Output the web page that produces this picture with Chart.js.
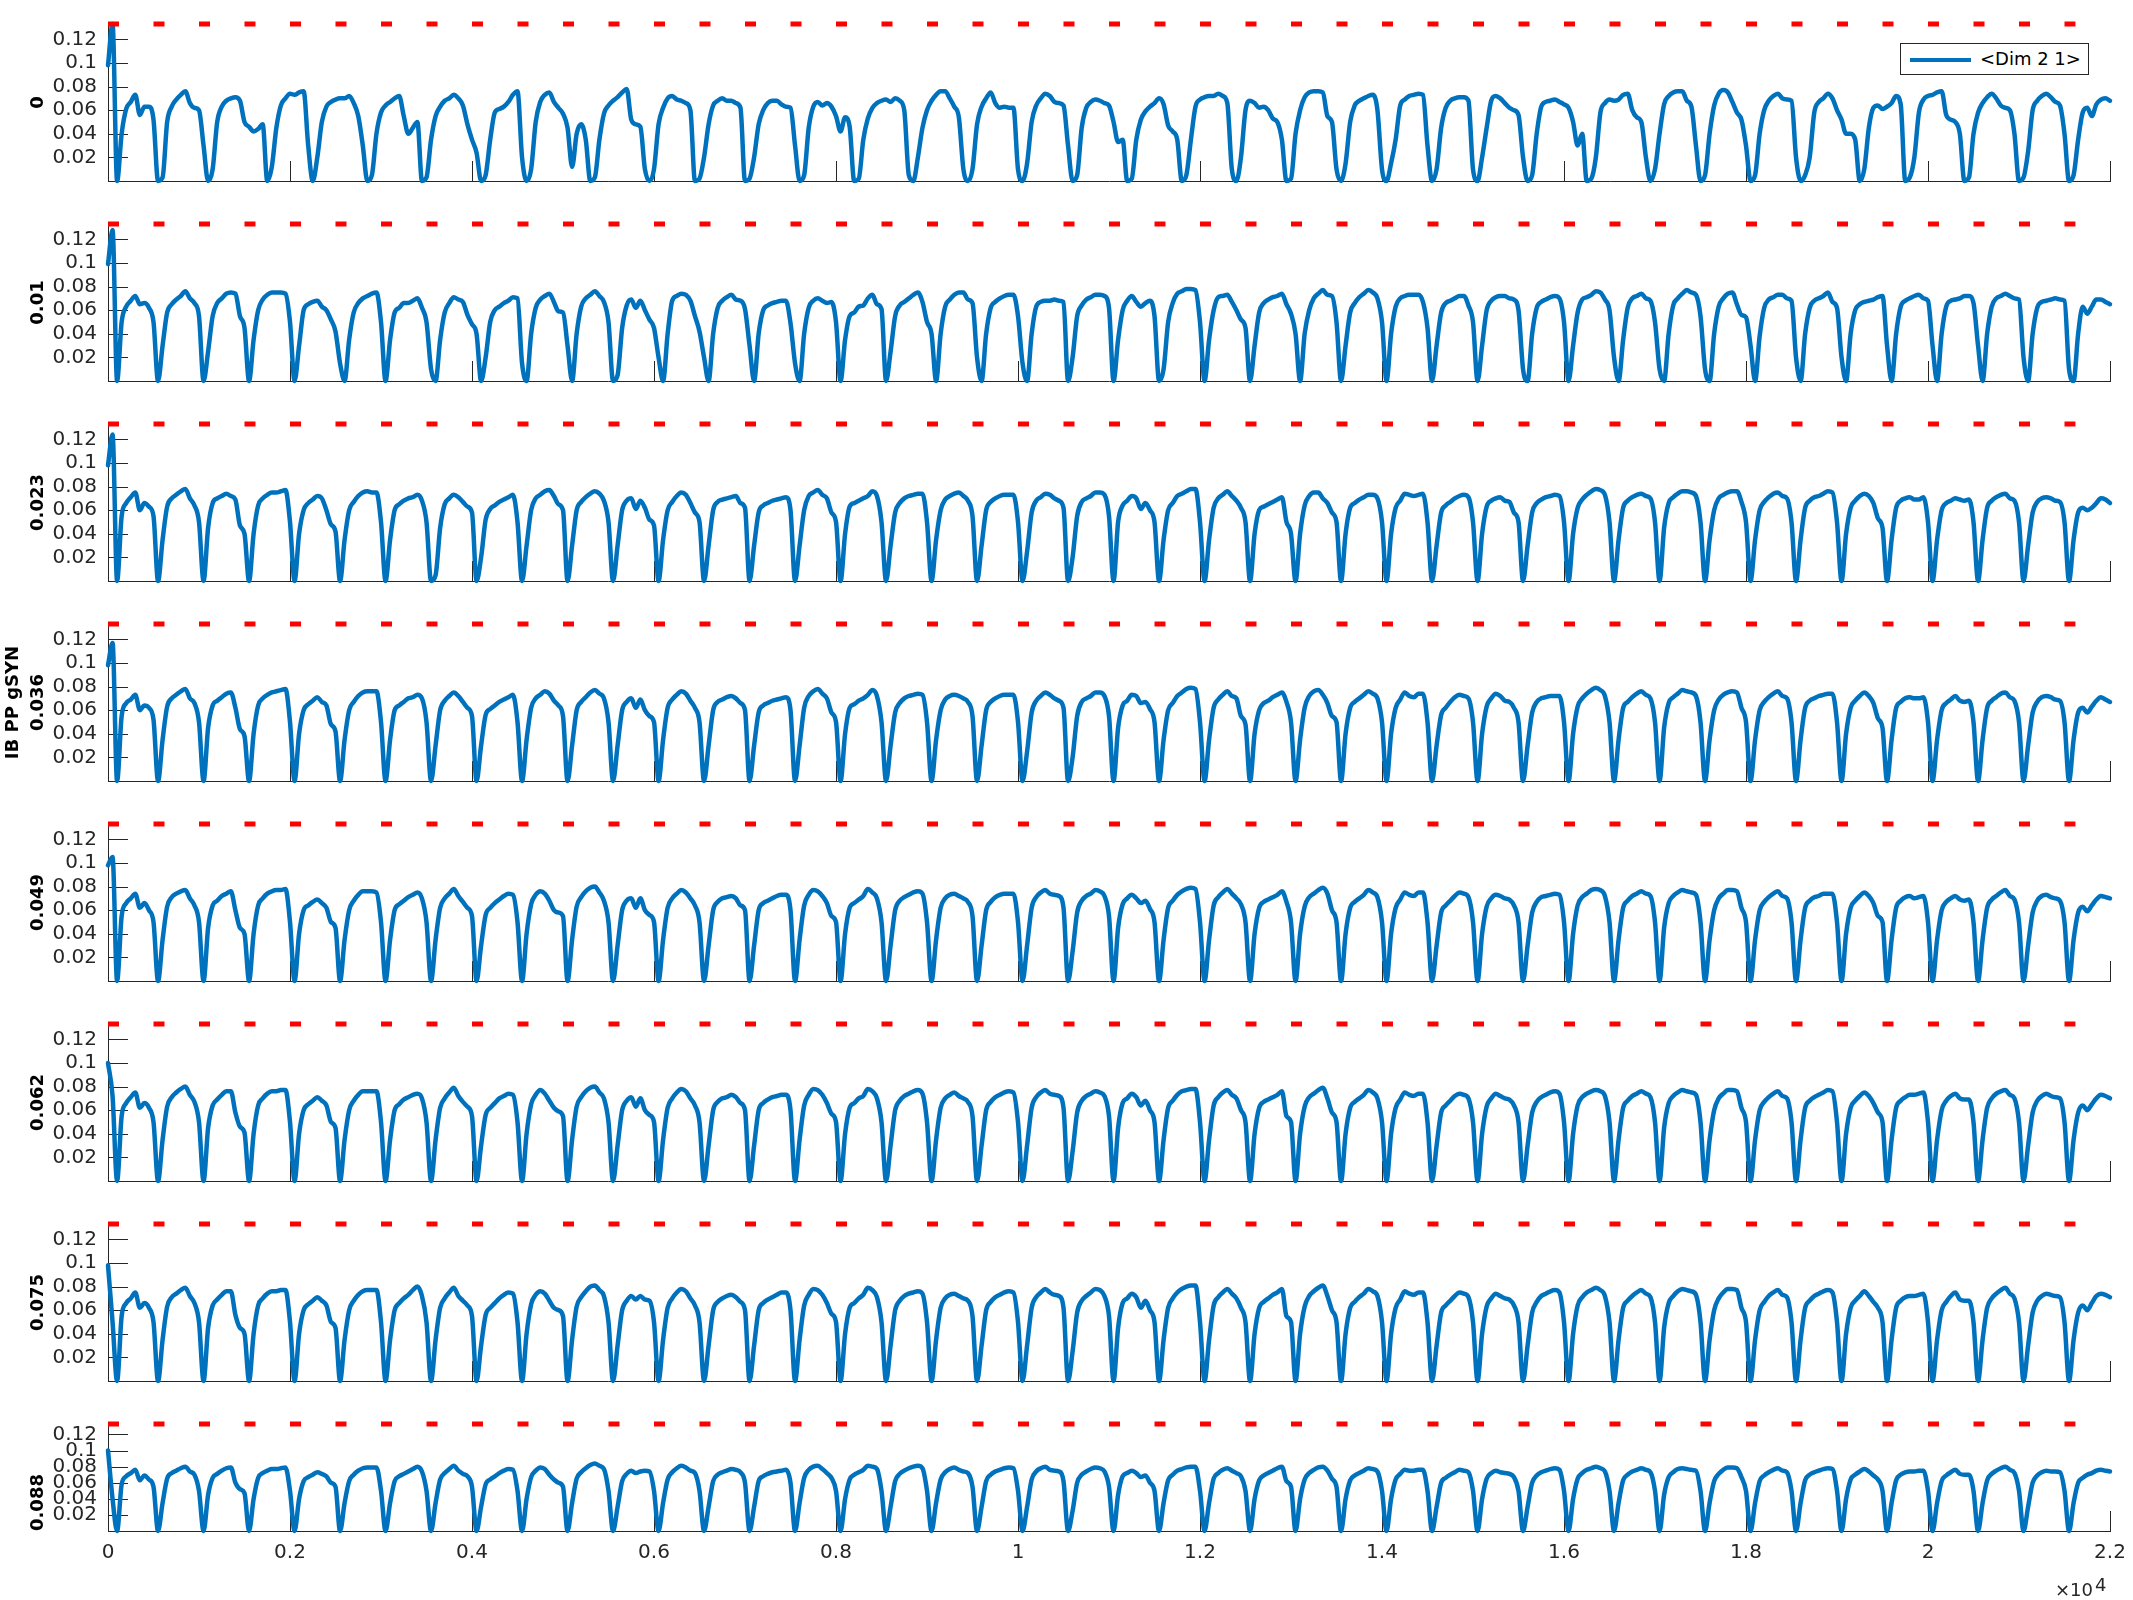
<!DOCTYPE html>
<html>
<head>
<meta charset="utf-8">
<script src="https://cdn.jsdelivr.net/npm/chart.js@4.4.1/dist/chart.umd.min.js"></script>
<style>
  body { margin: 0; background: #fff; width: 2133px; height: 1600px; overflow: hidden; position: relative; }
  canvas { position: absolute; left: 0; }
  #legend { position: absolute; left: 1900px; top: 43px; width: 187px; height: 30px; border: 1px solid #262626; background: #fff; z-index: 5; }
  #legend i { position: absolute; left: 9px; top: 14px; width: 61px; height: 4px; background: #0072BD; }
  #legend span { position: absolute; left: 79px; top: 4px; font: 18px "DejaVu Sans"; line-height: 22px; color: #000; white-space: pre; }
</style>
</head>
<body>
<div id="legend"><i></i><span id="legendText"></span></div>
<script>
// axis setup
const xTicks = [0, 2000, 4000, 6000, 8000, 10000, 12000, 14000, 16000, 18000, 20000, 22000];
const yTicks = [0.02, 0.04, 0.06, 0.08, 0.1, 0.12];
const yMax = 0.133;
const panelLabels = ["0", "0.01", "0.023", "0.036", "0.049", "0.062", "0.075", "0.088"];
const sharedLabel = "IB PP gSYN";
const legendLabel = "<Dim 2 1>";

// red dashed reference level, drawn across the run
const thresholdLevel = [0.133, 0.133];
const thresholdTime = [0, 21620];

// traced gSYN values, x 1e-3, one sample every 50 time units from 0 to 22000
const sampleStep = 50;

const g0 = [
98,133,0,40,61,67,73,56,63,63,
52,0,3,50,63,69,73,76,66,62,
60,30,0,10,50,63,68,70,71,68,
50,46,42,44,48,0,12,45,64,70,
74,73,75,76,30,0,20,50,63,67,
69,70,70,72,66,55,30,0,5,40,
58,64,67,70,72,55,40,45,50,0,
3,35,55,63,68,70,73,70,64,48,
35,24,0,5,35,58,61,63,67,73,
76,20,0,10,50,67,73,75,67,62,
57,45,12,40,48,35,0,3,35,57,
64,68,71,75,78,52,48,46,10,0,
10,48,62,70,72,69,68,66,60,0,
2,20,48,64,68,70,68,68,66,62,
0,2,20,48,60,66,68,68,65,63,
62,30,0,5,45,63,67,64,66,63,
55,42,54,46,0,2,35,53,62,66,
68,69,67,70,68,60,5,0,20,45,
60,68,73,76,76,70,63,54,10,0,
10,48,63,70,75,66,62,63,62,62,
10,0,15,50,64,70,74,72,67,66,
64,30,0,5,45,62,67,69,68,66,
64,50,33,35,0,2,35,52,59,63,
66,70,65,47,42,35,0,5,35,63,
69,71,72,72,74,72,66,10,0,20,
60,68,66,62,63,60,53,50,35,0,
2,40,60,71,75,76,76,75,55,50,
10,0,15,50,64,68,70,72,73,60,
10,0,15,35,64,69,72,73,74,73,
30,0,10,45,62,68,70,71,71,68,
10,0,20,45,68,72,70,66,62,60,
56,20,0,5,40,63,67,68,69,67,
65,62,50,30,40,0,2,20,58,66,
69,68,69,73,74,60,54,50,20,0,
10,40,65,72,75,76,76,68,63,30,
0,5,40,64,74,77,75,67,58,52,
30,0,5,40,60,68,72,74,70,69,
68,20,0,5,20,58,67,70,74,70,
60,52,40,40,35,0,10,45,62,64,
61,63,66,72,65,0,3,20,58,69,
72,73,75,76,56,52,50,40,0,3,
40,58,66,71,74,70,64,62,60,40,
0,3,25,60,68,72,74,71,67,64,
40,0,5,35,58,62,55,65,69,70,
68];

const g010 = [
99,128,0,50,63,68,72,65,66,62,
50,0,30,58,65,69,72,76,70,66,
55,0,25,55,66,70,74,75,74,55,
45,0,35,60,69,73,75,75,75,74,
50,0,30,60,65,67,68,63,60,52,
42,15,0,35,58,66,70,72,74,75,
50,0,35,58,62,66,66,68,70,62,
50,10,0,35,58,66,71,69,67,56,
48,40,0,20,50,60,63,66,68,71,
70,15,0,40,62,69,72,74,67,59,
58,30,0,40,63,70,73,76,72,67,
50,0,5,45,64,69,62,68,60,52,
45,20,0,40,68,72,74,73,68,55,
42,20,0,40,62,68,71,73,69,68,
61,30,0,40,60,64,66,67,68,68,
49,15,0,40,62,68,70,68,66,67,
50,0,35,55,58,63,64,70,73,65,
61,0,25,55,64,67,70,73,75,67,
50,40,0,40,63,69,73,75,75,69,
66,20,0,40,62,67,70,72,73,73,
55,15,0,40,63,67,68,68,69,68,
67,0,20,55,64,69,71,73,73,72,
62,0,35,60,68,72,67,63,66,68,
55,0,10,50,66,74,76,78,78,77,
50,0,35,60,71,72,73,67,60,52,
45,0,30,58,66,69,71,72,74,65,
57,40,0,40,60,70,74,77,73,72,
50,0,30,58,66,71,74,77,75,70,
50,0,40,63,70,72,73,73,73,67,
45,0,30,58,66,68,70,72,72,64,
50,0,30,60,68,71,72,72,70,69,
60,10,0,40,62,67,69,71,72,70,
50,0,30,58,69,71,73,76,75,69,
60,20,0,35,62,70,72,74,70,68,
50,10,0,40,64,70,74,77,75,73,
55,10,0,40,63,70,74,75,65,56,
54,30,0,38,62,69,71,73,73,70,
68,20,0,40,62,68,70,72,75,67,
62,20,0,40,60,65,67,68,69,71,
72,30,0,40,63,68,70,72,73,70,
68,30,0,40,63,68,69,70,72,72,
66,30,0,40,63,70,72,74,72,70,
69,20,0,40,62,67,68,69,70,69,
68,10,0,40,63,57,63,69,69,67,
65];

const g023 = [
98,124,0,55,66,71,75,60,66,63,
55,0,35,63,70,73,76,78,70,64,
50,0,45,66,70,72,74,72,69,47,
40,0,40,64,70,73,75,75,76,77,
50,0,40,60,66,69,72,70,60,48,
42,0,35,60,67,72,75,76,75,75,
50,0,35,60,65,68,70,71,73,68,
50,0,5,45,65,70,73,71,67,63,
58,0,20,52,61,64,67,69,71,73,
50,0,30,60,70,73,76,77,72,65,
60,0,30,60,67,71,74,76,74,68,
50,0,30,60,68,70,61,68,62,52,
47,0,35,60,67,72,75,73,66,58,
50,0,30,60,67,69,70,71,72,66,
62,0,30,58,64,66,68,69,70,71,
60,0,30,60,72,75,77,73,70,58,
50,0,40,63,66,68,70,72,76,72,
50,0,30,58,66,70,72,73,74,74,
50,0,35,60,69,72,74,75,72,68,
55,0,30,60,67,70,72,73,73,73,
50,0,25,58,68,71,74,73,70,68,
62,0,20,55,67,70,72,75,75,73,
55,0,50,64,68,72,70,61,66,60,
50,0,35,60,66,72,74,76,78,78,
50,0,35,62,70,73,76,72,68,62,
50,0,40,60,63,65,67,69,71,50,
40,0,40,64,72,75,75,70,66,58,
50,0,40,62,66,69,71,73,73,70,
50,0,40,62,68,74,73,72,73,74,
50,0,30,58,64,67,70,72,73,71,
50,0,40,63,68,70,71,68,67,58,
50,0,30,58,66,69,71,72,73,72,
50,0,40,62,69,73,76,78,77,73,
50,0,35,62,68,71,73,74,72,70,
50,0,45,66,71,74,76,76,75,72,
50,0,35,60,70,73,75,76,76,67,
50,0,35,60,67,71,74,75,72,70,
50,0,35,62,68,71,72,74,76,75,
50,0,40,62,68,72,74,72,66,53,
45,0,35,62,68,70,71,69,69,71,
50,0,35,60,66,68,70,69,68,69,
50,0,35,62,68,71,73,74,70,68,
50,0,30,58,67,70,71,70,68,67,
50,0,35,58,62,60,62,66,70,69,
66];

const g036 = [
98,117,0,55,66,69,73,60,64,62,
52,0,35,63,70,73,76,78,70,66,
50,0,45,64,68,71,74,75,62,44,
38,0,40,64,70,73,75,76,77,78,
50,0,40,60,65,68,71,67,64,48,
42,0,35,60,67,72,75,76,76,76,
50,0,35,60,64,67,70,71,73,70,
50,0,30,60,68,72,75,72,67,62,
55,0,30,56,61,64,67,69,71,73,
50,0,35,62,70,73,76,74,68,64,
55,0,30,60,67,71,75,77,74,70,
50,0,30,60,67,70,62,69,60,55,
50,0,35,62,69,73,76,74,68,62,
50,0,30,60,67,69,71,72,70,66,
60,0,30,58,64,66,68,69,70,71,
60,0,30,62,72,76,78,74,70,58,
50,0,40,62,65,68,70,73,77,72,
50,0,30,58,66,70,72,73,74,73,
50,0,35,60,69,72,73,72,70,67,
55,0,30,60,67,70,72,73,73,73,
50,0,25,58,68,72,75,73,70,68,
62,0,20,55,67,70,72,75,75,72,
55,0,45,64,68,73,72,66,67,61,
50,0,35,60,66,72,75,78,79,78,
50,0,35,62,69,73,76,72,70,55,
48,0,40,60,66,68,71,73,75,67,
50,0,35,62,72,76,77,73,66,55,
50,0,40,62,67,70,73,76,74,70,
50,0,40,62,69,75,72,71,74,74,
50,0,30,56,62,67,71,73,72,70,
50,0,40,63,70,74,72,68,67,62,
50,0,30,58,67,70,71,72,72,72,
50,0,40,63,70,74,77,79,77,72,
50,0,35,62,67,71,74,76,73,70,
50,0,45,66,71,74,77,76,75,72,
50,0,35,60,69,73,75,76,75,62,
50,0,35,60,67,71,74,76,72,70,
50,0,35,62,68,70,72,73,74,74,
50,0,40,62,68,72,75,72,66,53,
45,0,35,62,67,70,71,70,70,71,
50,0,35,60,66,69,72,68,67,68,
50,0,35,62,68,71,74,75,71,68,
50,0,30,58,67,71,72,71,69,68,
50,0,35,58,62,58,63,68,71,69,
67];

const g049 = [
98,105,0,55,66,70,74,62,66,60,
50,0,35,63,71,74,76,77,70,64,
50,0,45,64,68,72,74,76,60,45,
40,0,40,64,70,74,76,77,77,78,
50,0,40,60,64,67,69,66,62,50,
45,0,35,60,68,73,76,76,76,75,
50,0,35,60,65,68,71,73,75,70,
50,0,35,62,70,74,78,72,67,62,
55,0,30,56,62,66,69,72,74,73,
50,0,40,65,73,76,74,68,60,58,
55,0,35,63,71,76,79,80,75,68,
50,0,30,60,68,70,62,70,60,56,
50,0,35,62,70,74,77,75,70,64,
50,0,30,60,67,70,71,72,70,64,
60,0,30,60,66,68,70,72,73,73,
60,0,35,64,73,77,76,72,66,55,
50,0,40,62,66,69,72,78,75,70,
50,0,30,60,68,71,73,75,76,74,
50,0,35,62,70,73,74,72,70,67,
55,0,30,60,67,71,73,74,74,74,
50,0,30,62,71,75,77,74,73,72,
62,0,25,58,68,72,74,77,76,72,
55,0,45,65,70,73,70,66,68,61,
50,0,35,62,68,73,76,78,79,78,
50,0,35,64,71,75,78,74,70,65,
50,0,40,62,67,69,71,73,76,67,
50,0,40,63,71,74,77,79,74,60,
50,0,40,62,67,70,73,77,75,71,
50,0,40,62,69,75,73,72,75,75,
50,0,30,58,64,68,72,75,74,71,
50,0,40,63,70,73,72,70,69,64,
50,0,30,58,67,71,72,73,74,73,
50,0,40,64,71,74,77,78,77,72,
50,0,35,62,68,72,74,76,74,72,
50,0,45,66,72,75,77,76,75,73,
50,0,35,60,70,74,77,77,76,62,
50,0,35,60,67,71,74,76,72,70,
50,0,35,62,68,71,72,74,74,74,
50,0,40,62,68,72,75,72,66,55,
50,0,35,62,68,71,72,70,71,72,
50,0,35,60,67,70,72,69,68,69,
50,0,35,62,69,72,75,77,72,69,
50,0,30,58,68,72,73,71,70,68,
50,0,35,58,63,59,64,69,72,71,
70];

const g062 = [
100,72,0,55,66,71,75,62,66,62,
50,0,35,63,71,75,78,80,73,67,
50,0,45,64,69,73,76,76,58,46,
41,0,40,64,70,74,76,76,77,77,
50,0,40,60,65,68,71,68,64,50,
45,0,35,60,68,73,76,76,76,76,
50,0,35,60,65,69,71,73,74,70,
50,0,35,62,70,75,79,72,67,63,
55,0,30,56,62,66,70,72,74,73,
50,0,40,65,73,77,74,68,62,59,
55,0,35,63,71,76,79,80,75,70,
50,0,30,60,68,71,63,70,60,56,
50,0,35,62,70,75,78,76,70,64,
50,0,30,60,67,70,71,73,71,66,
60,0,30,60,66,69,71,72,73,73,
60,0,35,64,73,78,77,73,66,57,
50,0,40,62,66,70,72,78,76,70,
50,0,30,60,68,72,74,76,77,74,
50,0,35,62,70,73,75,72,70,67,
55,0,30,60,67,71,73,75,76,75,
50,0,30,62,71,75,77,74,73,72,
62,0,25,58,68,72,74,76,75,72,
55,0,45,66,70,74,71,64,68,60,
50,0,35,62,68,73,76,77,78,78,
50,0,35,64,71,75,77,73,70,60,
50,0,40,62,67,69,71,73,76,55,
50,0,40,63,71,74,77,79,70,58,
50,0,40,62,67,70,73,77,75,70,
50,0,40,62,69,75,73,72,74,74,
50,0,30,58,64,68,72,74,73,70,
50,0,40,63,70,74,72,70,69,64,
50,0,30,58,67,71,73,75,76,74,
50,0,40,64,71,74,76,77,76,72,
50,0,35,62,68,72,74,76,74,71,
50,0,45,66,72,75,77,76,75,73,
50,0,35,60,70,74,77,77,76,62,
50,0,35,60,67,71,74,76,72,70,
50,0,35,62,68,71,73,75,77,76,
50,0,40,62,68,72,75,72,66,58,
50,0,35,62,68,71,73,73,74,75,
50,0,35,60,68,72,74,70,69,69,
50,0,35,62,70,74,76,77,73,70,
50,0,30,58,68,72,74,72,71,70,
50,0,35,58,64,60,65,70,73,72,
70];

const g075 = [
98,50,0,55,66,70,75,62,66,62,
50,0,35,63,71,74,77,79,72,66,
50,0,45,64,69,73,76,76,56,45,
40,0,40,64,70,74,76,76,77,77,
50,0,40,60,65,68,71,68,64,50,
45,0,35,60,68,73,76,77,77,77,
50,0,35,60,66,70,73,77,80,72,
50,0,35,62,70,75,79,72,68,64,
55,0,30,56,62,66,70,73,75,74,
50,0,40,65,73,76,74,68,62,60,
55,0,35,63,71,76,80,81,77,72,
50,0,30,60,68,72,69,72,69,68,
50,0,35,62,70,75,78,76,70,64,
50,0,30,60,67,70,72,73,71,67,
60,0,30,60,66,69,71,73,75,75,
60,0,35,64,73,78,77,73,66,57,
50,0,40,62,66,70,73,79,77,71,
50,0,30,60,68,72,74,75,76,74,
50,0,35,62,70,73,74,72,70,68,
55,0,30,60,67,71,73,75,76,75,
50,0,30,62,71,75,78,75,73,72,
62,0,25,58,68,72,75,78,77,72,
55,0,45,66,70,74,71,62,68,60,
50,0,35,62,70,75,78,80,81,81,
50,0,35,64,71,75,78,74,70,62,
50,0,40,62,67,70,73,75,78,55,
50,0,40,63,72,76,79,81,72,60,
50,0,40,62,67,71,74,78,76,72,
50,0,40,62,69,76,74,73,75,75,
50,0,30,58,64,68,72,75,74,71,
50,0,40,63,70,74,72,70,69,64,
50,0,30,58,67,72,74,76,77,75,
50,0,40,64,71,75,77,79,77,72,
50,0,35,62,68,72,75,77,74,71,
50,0,45,66,72,76,78,77,76,73,
50,0,35,60,70,75,78,78,77,62,
50,0,35,60,67,72,75,77,73,71,
50,0,35,62,68,72,74,76,77,75,
50,0,40,62,68,72,76,72,67,62,
50,0,35,62,68,71,72,72,73,74,
50,0,35,60,67,72,75,69,68,68,
50,0,35,62,70,74,77,79,74,70,
50,0,30,58,68,72,74,73,72,71,
50,0,35,58,64,60,66,72,74,73,
71];

const g088 = [
100,40,0,58,68,72,76,63,69,64,
55,0,35,65,72,75,78,80,74,70,
50,0,45,66,71,75,78,79,60,52,
47,0,40,66,72,75,77,77,78,79,
50,0,40,62,67,70,73,71,68,60,
55,0,35,62,70,75,78,79,79,79,
50,0,35,62,68,71,74,77,80,74,
50,0,35,64,72,77,81,75,71,68,
55,0,30,58,64,68,72,75,77,76,
50,0,40,67,75,79,77,70,64,60,
55,0,35,65,73,78,82,84,81,77,
50,0,30,62,71,75,72,74,75,74,
50,0,35,64,73,78,81,79,75,72,
50,0,30,62,70,73,75,77,76,73,
60,0,30,62,68,71,73,74,75,76,
60,0,35,66,76,80,81,77,72,66,
50,0,40,64,70,73,76,81,80,77,
50,0,30,62,71,75,78,80,81,78,
50,0,35,64,73,77,79,76,74,72,
55,0,30,62,70,74,76,78,79,78,
50,0,30,64,74,78,80,76,75,74,
62,0,25,60,70,74,77,79,78,74,
55,0,45,68,72,75,72,67,69,60,
50,0,35,63,70,75,77,79,80,80,
50,0,35,65,72,76,78,75,72,68,
50,0,40,63,69,72,75,78,80,62,
55,0,40,64,72,76,79,80,75,65,
55,0,40,63,69,72,75,78,77,74,
50,0,40,64,71,76,75,75,76,76,
50,0,30,60,66,70,73,76,75,73,
50,0,40,65,72,75,73,72,71,67,
50,0,30,60,69,73,75,77,78,76,
50,0,40,65,72,76,78,80,78,74,
50,0,35,63,70,74,76,78,76,73,
50,0,45,67,73,77,78,77,76,75,
50,0,35,62,71,76,79,79,78,67,
50,0,35,62,69,73,76,78,75,73,
50,0,35,63,70,73,75,77,78,77,
50,0,40,64,70,74,77,74,69,64,
50,0,35,63,70,73,74,74,75,75,
50,0,35,62,69,73,76,71,70,70,
50,0,35,63,71,75,78,80,76,72,
50,0,30,60,69,73,75,74,74,73,
50,0,35,60,66,70,72,75,76,75,
74];

const traces = [g0, g010, g023, g036, g049, g062, g075, g088];

// page geometry
const W = 2133, H = 1600;
const AXIS_LEFT = 108, AXIS_RIGHT = 2110;
const FIRST_TOP = 24, STEP = 200, PANEL_H = 157, LAST_H = 107, PAD = 16;
const INK = '#262626';
const FONT = '"DejaVu Sans"';

Chart.defaults.font.family = FONT;
Chart.defaults.color = INK;

document.getElementById('legendText').textContent = legendLabel;

// MATLAB style tick marks: drawn inward, under the data
const innerTicks = {
  id: 'innerTicks',
  beforeDatasetsDraw(chart) {
    const { ctx, chartArea: a, scales: { x, y } } = chart;
    ctx.save();
    ctx.strokeStyle = INK;
    ctx.lineWidth = 1;
    ctx.beginPath();
    yTicks.forEach(v => {
      const py = Math.round(y.getPixelForValue(v)) + 0.5;
      ctx.moveTo(a.left, py);
      ctx.lineTo(a.left + 20, py);
    });
    xTicks.forEach(v => {
      const px = Math.round(x.getPixelForValue(v)) + 0.5;
      ctx.moveTo(px, a.bottom);
      ctx.lineTo(px, a.bottom - 20);
    });
    ctx.stroke();
    ctx.restore();
  }
};

// "x10^4" exponent under the last axis
const expLabel = {
  id: 'expLabel',
  afterDraw(chart) {
    const { ctx, chartArea: a } = chart;
    ctx.save();
    ctx.fillStyle = INK;
    ctx.font = '18px ' + FONT;
    ctx.textBaseline = 'alphabetic';
    ctx.textAlign = 'right';
    ctx.fillText('\u00d710', a.right - 17, a.bottom + 65);
    ctx.textAlign = 'left';
    ctx.fillText('4', a.right - 15, a.bottom + 60);
    ctx.restore();
  }
};

traces.forEach((trace, i) => {
  const last = i === traces.length - 1;
  const top = FIRST_TOP + STEP * i - PAD;
  const h = last ? H - top : PAD + PANEL_H + PAD;
  const xAxisH = last ? h - PAD - LAST_H : 0;

  const cv = document.createElement('canvas');
  cv.width = W;
  cv.height = h;
  cv.style.top = top + 'px';
  cv.style.width = W + 'px';
  cv.style.height = h + 'px';
  document.body.appendChild(cv);

  const points = trace.map((v, k) => ({ x: k * sampleStep, y: v / 1000 }));
  const refLine = thresholdTime.map((t, k) => ({ x: t, y: thresholdLevel[k] }));

  new Chart(cv, {
    type: 'line',
    data: {
      datasets: [
        {
          label: 'threshold',
          data: refLine,
          borderColor: '#FF0000',
          borderWidth: 5,
          borderDash: [11, 34.5],
          pointRadius: 0,
          clip: false
        },
        {
          label: legendLabel,
          data: points,
          borderColor: '#0072BD',
          borderWidth: 4.5,
          borderJoinStyle: 'round',
          borderCapStyle: 'round',
          cubicInterpolationMode: 'monotone',
          pointRadius: 0,
          clip: false
        }
      ]
    },
    options: {
      responsive: false,
      animation: false,
      devicePixelRatio: 1,
      events: [],
      layout: { padding: { top: PAD, right: W - AXIS_RIGHT, bottom: last ? 0 : PAD, left: 0 } },
      plugins: { legend: { display: false }, tooltip: { enabled: false } },
      scales: {
        x: {
          type: 'linear',
          min: 0,
          max: 22000,
          afterBuildTicks: s => { s.ticks = xTicks.map(v => ({ value: v })); },
          afterFit: s => { s.height = xAxisH; s.paddingLeft = 0; s.paddingRight = 0; },
          grid: { drawOnChartArea: false, drawTicks: false },
          border: { display: true, color: INK, width: 1 },
          ticks: {
            display: last,
            autoSkip: false,
            maxRotation: 0,
            padding: 10,
            color: INK,
            font: { size: 20 },
            callback: v => v === 0 ? '0' : String(v / 10000)
          }
        },
        y: {
          min: 0,
          max: yMax,
          afterBuildTicks: s => { s.ticks = yTicks.map(v => ({ value: v })); },
          afterFit: s => { s.width = AXIS_LEFT; s.paddingTop = 0; s.paddingBottom = 0; },
          grid: { drawOnChartArea: false, drawTicks: false },
          border: { display: true, color: INK, width: 1 },
          ticks: {
            autoSkip: false,
            padding: 11,
            color: INK,
            font: { size: 20 },
            callback: v => String(v)
          },
          title: {
            display: true,
            text: i === 3 ? [sharedLabel, panelLabels[i]] : panelLabels[i],
            color: '#000',
            align: last ? 'start' : 'center',
            font: { size: 18, weight: 'bold', lineHeight: 1.4 },
            padding: { top: i === 3 ? 0.4 : 25.4, bottom: 0 }
          }
        }
      }
    },
    plugins: last ? [innerTicks, expLabel] : [innerTicks]
  });
});
</script>
</body>
</html>
